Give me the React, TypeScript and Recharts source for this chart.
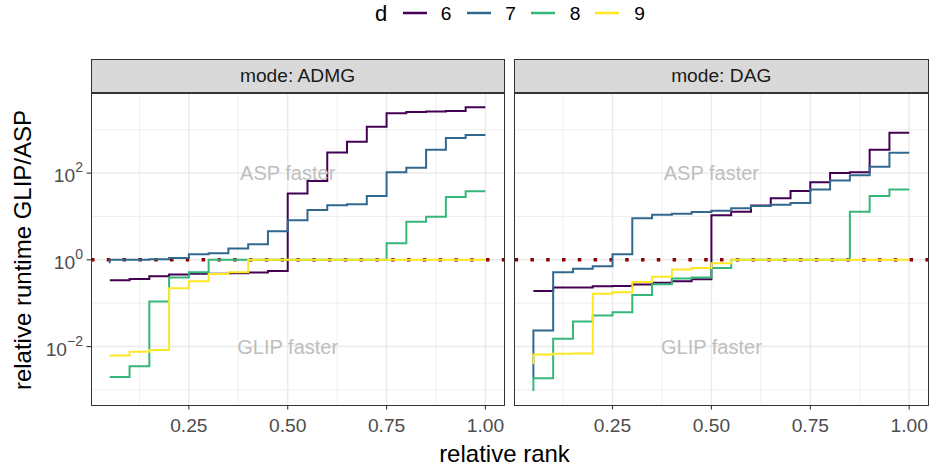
import React from 'react';
import {
  LineChart,
  Line,
  XAxis,
  YAxis,
  CartesianGrid,
  ReferenceLine,
  ReferenceDot,
} from 'recharts';

const ranks = [0.05, 0.1, 0.15, 0.2, 0.25, 0.3, 0.35, 0.4, 0.45, 0.5, 0.55, 0.6, 0.65, 0.7, 0.75, 0.8, 0.85, 0.9, 0.95, 1.0];

const admgD6 = [0.34, 0.34, 0.36, 0.42, 0.46, 0.48, 0.48, 0.49, 0.51, 0.55, 34, 66, 300, 525, 1175, 2400, 2570, 2630, 2690, 3310];
const admgD7 = [0.83, 1.0, 1.0, 1.035, 1.1, 1.35, 1.41, 1.82, 2.29, 4.57, 8.13, 14.1, 18.2, 19.1, 29.5, 105, 132, 347, 646, 759];
const admgD8 = [0.002, 0.002, 0.0035, 0.11, 0.39, 0.52, 1, 1, 1, 1, 1, 1, 1, 1, 1, 2.4, 7.6, 9.8, 28, 38];
const admgD9 = [0.0062, 0.0062, 0.0076, 0.0083, 0.22, 0.32, 0.47, 0.52, 1, 1, 1, 1, 1, 1, 1, 1, 1, 1, 1, 1];

const dagD6 = [0.19, 0.19, 0.23, 0.23, 0.245, 0.25, 0.27, 0.295, 0.32, 0.355, 10.7, 12.9, 17.8, 26.3, 38.9, 61.7, 100, 105, 347, 851];
const dagD7 = [0.0019, 0.0234, 0.52, 0.62, 0.71, 1.35, 9.1, 11, 11.5, 12.6, 13.5, 15.5, 17.4, 18.6, 20.4, 41.7, 67.6, 89, 141, 295];
const dagD8 = [0.00095, 0.00186, 0.0151, 0.038, 0.052, 0.062, 0.155, 0.275, 0.37, 0.39, 0.65, 1, 1, 1, 1, 1, 1, 12.9, 29.5, 41.7];
const dagD9 = [0.0039, 0.0066, 0.0068, 0.0069, 0.166, 0.178, 0.31, 0.41, 0.6, 0.65, 0.83, 1, 1, 1, 1, 1, 1, 1, 1, 1];

const dLevels = ['6', '7', '8', '9'];
const dColors = ['#440154', '#31688E', '#35B779', '#FDE725'];

const xTicks = [0.25, 0.5, 0.75, 1.0];
const xMinor = [0.125, 0.375, 0.625, 0.875];
const yTicks = [0.01, 1, 100];
const yMinor = [0.001, 0.1, 10, 1000];

const FONT = '"Liberation Sans", Arial, Helvetica, sans-serif';

const buildRows = (series: number[][]) =>
  ranks.map((x, i) => ({
    x,
    d6: series[0][i],
    d7: series[1][i],
    d8: series[2][i],
    d9: series[3][i],
  }));

const admgRows = buildRows([admgD6, admgD7, admgD8, admgD9]);
const dagRows = buildRows([dagD6, dagD7, dagD8, dagD9]);

const xDomain: [number, number] = [0.0025, 1.0475];
const yDomain: [number, number] = [Math.pow(10, -3.347), Math.pow(10, 3.847)];

function PowerTick(props: any) {
  const { x, y, payload } = props;
  const exp = Math.round(Math.log10(payload.value));
  const expText = exp < 0 ? '\u2212' + Math.abs(exp) : String(exp);
  return (
    <text x={x} y={y} textAnchor="end" fill="#4D4D4D" fontFamily={FONT} fontSize={19.2}>
      <tspan dy={9}>10</tspan>
      <tspan dy={-10} fontSize={14}>{expText}</tspan>
    </text>
  );
}

function Panel({ rows, showY, width, margin }: { rows: any[]; showY: boolean; width: number; margin: any }) {
  return (
    <LineChart width={width} height={467} data={rows} margin={margin}>
      <CartesianGrid
        stroke="#EBEBEB"
        strokeWidth={0.8}
        horizontalValues={yMinor}
        verticalValues={xMinor}
      />
      <CartesianGrid
        stroke="#EBEBEB"
        strokeWidth={1.5}
        horizontalValues={yTicks}
        verticalValues={xTicks}
      />
      <XAxis
        type="number"
        dataKey="x"
        domain={xDomain}
        allowDataOverflow
        ticks={xTicks}
        tickFormatter={(v: number) => v.toFixed(2)}
        axisLine={false}
        tickSize={4.4}
        tickMargin={9}
        height={30}
        tickLine={{ stroke: '#333333', strokeWidth: 1.1 }}
        tick={{ fill: '#4D4D4D', fontSize: 19.2, fontFamily: FONT }}
      />
      <YAxis
        type="number"
        scale="log"
        domain={yDomain}
        allowDataOverflow
        ticks={yTicks}
        hide={!showY}
        width={60}
        axisLine={false}
        tickSize={4.4}
        tickMargin={3.6}
        tickLine={{ stroke: '#333333', strokeWidth: 1.1 }}
        tick={<PowerTick />}
      />
      <ReferenceDot
        x={0.5}
        y={100}
        r={0}
        stroke="none"
        fill="none"
        label={{ value: 'ASP faster', position: 'center', fill: '#BEBEBE', fontSize: 20, fontFamily: FONT }}
      />
      <ReferenceDot
        x={0.5}
        y={0.01}
        r={0}
        stroke="none"
        fill="none"
        label={{ value: 'GLIP faster', position: 'center', fill: '#BEBEBE', fontSize: 20, fontFamily: FONT }}
      />
      <ReferenceLine y={1} stroke="#8B0000" strokeWidth={3.5} strokeDasharray="3.5 12.3" />
      {dLevels.map((d, i) => (
        <Line
          key={d}
          type="stepBefore"
          dataKey={'d' + d}
          stroke={dColors[i]}
          strokeWidth={2}
          dot={false}
          isAnimationActive={false}
        />
      ))}
    </LineChart>
  );
}

const stripStyle: React.CSSProperties = {
  position: 'absolute',
  top: 58.5,
  height: 34.5,
  background: '#D9D9D9',
  border: '1.4px solid #333333',
  boxSizing: 'border-box',
  display: 'flex',
  alignItems: 'center',
  justifyContent: 'center',
  fontFamily: FONT,
  fontSize: 19.2,
  color: '#1A1A1A',
};

const borderStyle: React.CSSProperties = {
  position: 'absolute',
  top: 92.5,
  height: 313,
  border: '1.4px solid #333333',
  boxSizing: 'border-box',
  pointerEvents: 'none',
};

export default function App() {
  return (
    <div style={{ position: 'absolute', left: 0, top: 0, width: 932, height: 467, background: '#fff', fontFamily: FONT }}>
      <div style={{ position: 'absolute', left: 0, top: 0 }}>
        <Panel rows={admgRows} showY width={510} margin={{ top: 93, right: 5.8, bottom: 32, left: 31 }} />
      </div>
      <div style={{ position: 'absolute', left: 500, top: 0 }}>
        <Panel rows={dagRows} showY={false} width={432} margin={{ top: 93, right: 4, bottom: 32, left: 14.6 }} />
      </div>

      <div style={{ ...stripStyle, left: 90.5, width: 414 }}>mode: ADMG</div>
      <div style={{ ...stripStyle, left: 514, width: 414.5 }}>mode: DAG</div>
      <div style={{ ...borderStyle, left: 90.5, width: 414 }} />
      <div style={{ ...borderStyle, left: 514, width: 414.5 }} />

      <svg width={932} height={467} style={{ position: 'absolute', left: 0, top: 0, pointerEvents: 'none' }}>
        <text
          x={0}
          y={0}
          transform="translate(31,250) rotate(-90)"
          textAnchor="middle"
          fontFamily={FONT}
          fontSize={24}
          fill="#000"
        >
          relative runtime GLIP/ASP
        </text>
        <text x={504.5} y={462} textAnchor="middle" fontFamily={FONT} fontSize={24} fill="#000">
          relative rank
        </text>
        <text x={381} y={21} textAnchor="middle" fontFamily={FONT} fontSize={22} fill="#000">
          d
        </text>
        {dLevels.map((d, i) => (
          <g key={d}>
            <line x1={403 + i * 64} x2={427 + i * 64} y1={13} y2={13} stroke={dColors[i]} strokeWidth={2.5} />
            <text x={446 + i * 64.5} y={20} textAnchor="middle" fontFamily={FONT} fontSize={19.2} fill="#000">
              {d}
            </text>
          </g>
        ))}
      </svg>
    </div>
  );
}
